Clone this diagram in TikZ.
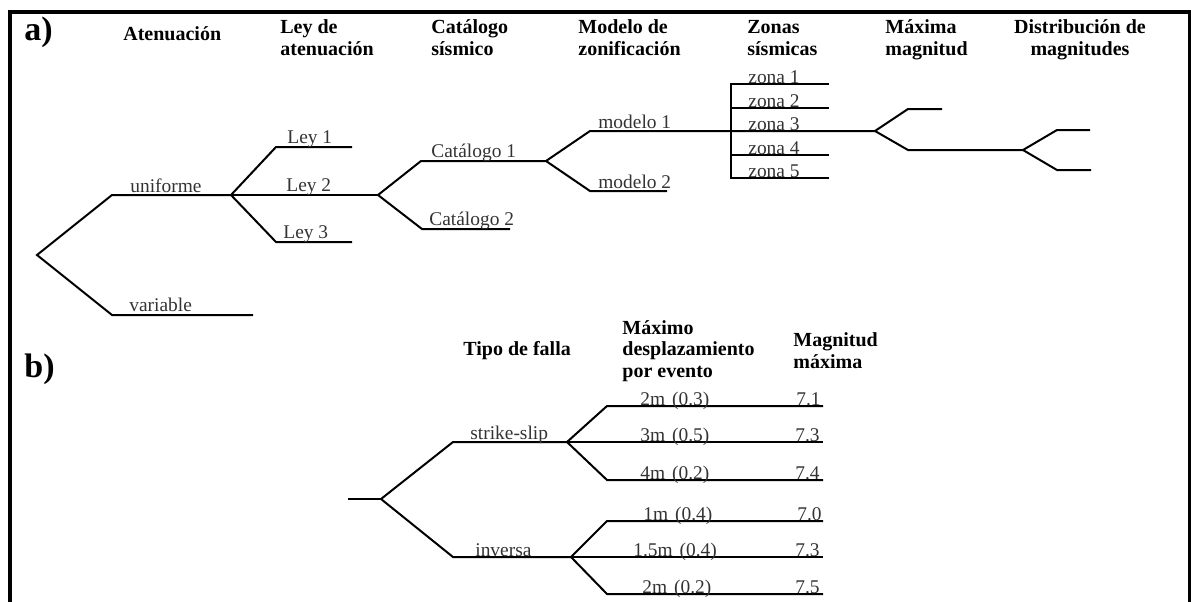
\documentclass[tikz,border=0pt]{standalone}
\usepackage{fontspec}
\setmainfont{Liberation Serif}
\newcommand{\gp}{\hspace{3.5pt}}
\begin{document}
\begin{tikzpicture}[x=0.5pt,y=-0.5pt,
  br/.style={line width=1pt, black},
  framestyle/.style={line width=2pt, black, line join=miter},
  lab/.style={font=\fontsize{9.7}{11}\selectfont, text=black!80, inner sep=0pt, anchor=base west},
  hdr/.style={font=\fontsize{10}{10.75}\selectfont\bfseries, inner sep=0pt, align=left, anchor=base west},
  hdrc/.style={font=\fontsize{10}{10.75}\selectfont\bfseries, inner sep=0pt, align=center, anchor=base},
  big/.style={font=\fontsize{17}{17}\selectfont\bfseries, inner sep=0pt, anchor=base west}]
\useasboundingbox (0,0) rectangle (1191,601);
% frame
\coordinate (fbl) at (10,603);
\coordinate (ftl) at (10,11.5);
\coordinate (ftr) at (1189.5,11.5);
\coordinate (fbr) at (1189.5,603);
\draw[framestyle] (fbl) -- (ftl) -- (ftr) -- (fbr);

% ---------- part a ----------
% (base anchor of a multi-line node = baseline of its last line)
\node[big] (la) at (24,40) {a)};
\node[hdr] (h1) at (123,40) {Atenuación};
\node[hdr] (h2) at (280,55) {Ley de\\atenuación};
\node[hdr] (h3) at (431,55) {Catálogo\\sísmico};
\node[hdr] (h4) at (578,55) {Modelo de\\zonificación};
\node[hdr] (h5) at (747,55) {Zonas\\sísmicas};
\node[hdr] (h6) at (885,55) {Máxima\\magnitud};
\node[hdrc] (h7) at (1080,55) {Distribución de\\magnitudes};

\coordinate (r) at (37,255);
\coordinate (u0) at (112,195); \coordinate (u1) at (231,195);
\coordinate (v0) at (112,315); \coordinate (v1) at (253,315);
\draw[br] (u1) -- (u0) -- (r) -- (v0) -- (v1);
\node[lab] (tu) at (130,192) {uniforme};
\node[lab] (tv) at (129,311) {variable};

\coordinate (l1a) at (276,147); \coordinate (l1b) at (352,147);
\coordinate (l2b) at (378,195);
\coordinate (l3a) at (276,242); \coordinate (l3b) at (352,242);
\draw[br] (l1b) -- (l1a) -- (u1) -- (l3a) -- (l3b);
\draw[br] (u1) -- (l2b);
\node[lab] (tl1) at (287,143) {Ley 1};
\node[lab] (tl2) at (286,191) {Ley 2};
\node[lab] (tl3) at (283,238) {Ley 3};

\coordinate (c1a) at (421,161); \coordinate (c1b) at (546,161);
\coordinate (c2a) at (422,229); \coordinate (c2b) at (510,229);
\draw[br] (c1b) -- (c1a) -- (l2b) -- (c2a) -- (c2b);
\node[lab] (tc1) at (431,157) {Catálogo 1};
\node[lab] (tc2) at (429,225) {Catálogo 2};

\coordinate (m1a) at (590,131); \coordinate (mx) at (875,131);
\coordinate (m2a) at (590,191); \coordinate (m2b) at (667,191);
\draw[br] (mx) -- (m1a) -- (c1b) -- (m2a) -- (m2b);
\node[lab] (tm1) at (598,128) {modelo 1};
\node[lab] (tm2) at (598,188) {modelo 2};

\coordinate (zb1) at (731,84);  \coordinate (ze1) at (829,84);
\coordinate (zb2) at (731,108); \coordinate (ze2) at (829,108);
\coordinate (zb3) at (731,131); \coordinate (ze3) at (829,131);
\coordinate (zb4) at (731,155); \coordinate (ze4) at (829,155);
\coordinate (zb5) at (731,178); \coordinate (ze5) at (829,178);
\draw[br] (ze1) -- (zb1) -- (zb5) -- (ze5);
\draw[br] (zb2) -- (ze2);
\draw[br] (zb3) -- (ze3);
\draw[br] (zb4) -- (ze4);
\node[lab] (tz1) at (748,83) {zona 1};
\node[lab] (tz2) at (748,107) {zona 2};
\node[lab] (tz3) at (748,130) {zona 3};
\node[lab] (tz4) at (748,154) {zona 4};
\node[lab] (tz5) at (748,177) {zona 5};

\coordinate (x1a) at (908,109); \coordinate (x1b) at (942,109);
\coordinate (x2a) at (908,150); \coordinate (d0) at (1023,150);
\draw[br] (x1b) -- (x1a) -- (mx) -- (x2a) -- (d0);

\coordinate (d1a) at (1057,130); \coordinate (d1b) at (1090,130);
\coordinate (d2a) at (1057,170); \coordinate (d2b) at (1091,170);
\draw[br] (d1b) -- (d1a) -- (d0) -- (d2a) -- (d2b);

% ---------- part b ----------
\node[big] (lb) at (24,377) {b)};
\node[hdr] (g1) at (463,355) {Tipo de falla};
\node[hdr] (g2) at (622,377) {Máximo\\desplazamiento\\por evento};
\node[hdr] (g3) at (793,368) {Magnitud\\máxima};

\coordinate (bs) at (348,499); \coordinate (b0) at (381,499);
\coordinate (s0) at (453,442); \coordinate (s1) at (567,442);
\coordinate (i0) at (453,557); \coordinate (i1) at (571,557);
\draw[br] (bs) -- (b0);
\draw[br] (s1) -- (s0) -- (b0) -- (i0) -- (i1);
\node[lab] (ts) at (470,439) {strike-slip};
\node[lab] (ti) at (475,556) {inversa};

\coordinate (sa) at (607,406); \coordinate (sae) at (823,406);
\coordinate (sbe) at (823,442);
\coordinate (sc) at (607,480); \coordinate (sce) at (823,480);
\draw[br] (sae) -- (sa) -- (s1) -- (sc) -- (sce);
\draw[br] (s1) -- (sbe);

\coordinate (ia) at (607,521); \coordinate (iae) at (823,521);
\coordinate (ibe) at (823,557);
\coordinate (ic) at (607,594); \coordinate (ice) at (823,594);
\draw[br] (iae) -- (ia) -- (i1) -- (ic) -- (ice);
\draw[br] (i1) -- (ibe);

\node[lab] (n1) at (640,405) {2m\gp(0.3)};
\node[lab] (n2) at (640,441) {3m\gp(0.5)};
\node[lab] (n3) at (640,479) {4m\gp(0.2)};
\node[lab] (n4) at (643,520) {1m\gp(0.4)};
\node[lab] (n5) at (633,556) {1.5m\gp(0.4)};
\node[lab] (n6) at (642,593) {2m\gp(0.2)};

\node[lab] (k1) at (796,405) {7.1};
\node[lab] (k2) at (795,441) {7.3};
\node[lab] (k3) at (795,479) {7.4};
\node[lab] (k4) at (797,520) {7.0};
\node[lab] (k5) at (795,556) {7.3};
\node[lab] (k6) at (795,593) {7.5};
\end{tikzpicture}
\end{document}
